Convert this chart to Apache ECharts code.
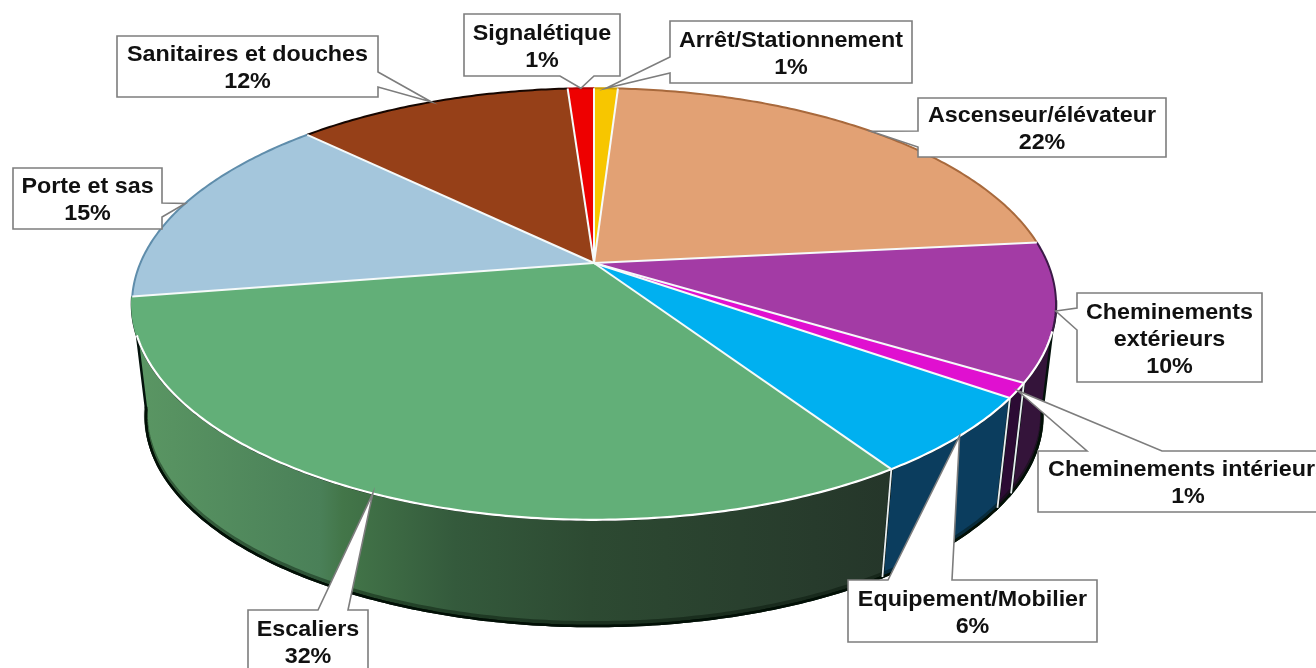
<!DOCTYPE html>
<html><head><meta charset="utf-8">
<style>html,body{margin:0;padding:0;background:#fff;overflow:hidden}#c{width:1316px;height:668px}</style>
<script src="https://cdn.jsdelivr.net/npm/echarts@6/dist/echarts.min.js"></script>
</head><body><div id="c"></div>
<script>
// DATA
const categories = ["Arrêt/Stationnement","Ascenseur/élévateur","Cheminements\nextérieurs","Cheminements intérieurs","Equipement/Mobilier","Escaliers","Porte et sas","Sanitaires et douches","Signalétique"];
const shares = [1.0,22.4,10.3,1.1,5.9,31.8,14.8,11.6,1.1];

// STYLE
const faceColors = ["#F7C600","#E2A174","#A33BA5","#E010D0","#00B0F0","#62AF78","#A4C6DC","#964018","#EE0000"];
const rimColors  = ["#d0a000","#a8693c","#3c1a48","#E010D0","#00B0F0","#62AF78","#5f8dab","#160600","#b00000"];
const greenWall = [[0,"#5a9663"],[0.24,"#4a8058"],[0.27,"#437649"],[0.42,"#345a3c"],[0.6,"#2d4a32"],[1,"#25362a"]];
const wallColors = [null,null,"#34143a","#2c0b34","#0b3d5e",greenWall,null,null,null];

// LAYOUT of the callouts: box x, y, w, h, wedge side, wedge base start, wedge base end
const calloutLayout = [
  [670,21,242,62,"left",57,73],
  [918,98,248,59,"left",131,147],
  [1077,293,185,89,"left",308,330],
  [1038,451,300,61,"top",1087,1162],
  [848,580,249,62,"top",888,952],
  [248,610,120,62,"top",318,348],
  [13,168,149,61,"right",203,217],
  [117,36,261,61,"right",72,87],
  [464,14,156,62,"bottom",560,594]
];

// PROJECTION of the tilted disc
const apexX = 594, apexY = 263, persp = 0.19, radY = 208, radX = 453.6;
const wallDrop = 114, wallScale = 0.97;
const wallFrom = 100, wallTo = 262;      // visible part of the side wall, degrees clockwise from the top
const frontFrom = 108, frontTo = 251;    // part of the rim drawn in white

function project(deg, lower) {
  const t = deg * Math.PI / 180, u = Math.sin(t), v = -Math.cos(t), w = 1 - persp * v;
  const s = lower ? wallScale : 1, d = lower ? wallDrop : 0;
  return [apexX + s * radX * u / w, apexY + d + s * radY * v / w];
}
const total = shares.reduce((a, b) => a + b, 0);
const edges = [0];
shares.forEach(function (s) { edges.push(edges[edges.length - 1] + s / total * 360); });
function arc(a, b, lower) {
  const n = Math.max(2, Math.ceil((b - a) * 1.5)), p = [];
  for (let i = 0; i <= n; i++) p.push(project(a + (b - a) * i / n, lower));
  return p;
}

function wallItem(params, api) {
  const i = params.dataIndex, a = Math.max(edges[i], wallFrom), b = Math.min(edges[i + 1], wallTo);
  if (b <= a || !wallColors[i]) return { type: 'group', children: [] };
  let fill = wallColors[i];
  if (Array.isArray(fill)) {
    fill = new echarts.graphic.LinearGradient(140, 0, 890, 0,
      fill.map(function (s) { return { offset: s[0], color: s[1] }; }), true);
  }
  const top = arc(a, b, false), bot = arc(a, b, true);
  const inner = bot.map(function (p) { return [p[0], p[1] - 3]; });
  const kids = [
    { type: 'polygon', shape: { points: top.concat(bot.slice().reverse()) },
      style: { fill: fill, stroke: '#04120c', lineWidth: 2.5 } },
    { type: 'polyline', shape: { points: inner }, style: { fill: null, stroke: '#021006', opacity: 0.4, lineWidth: 4 } },
    { type: 'polyline', shape: { points: bot }, style: { fill: null, stroke: '#021006', lineWidth: 2.5 } }
  ];
  if (edges[i] >= wallFrom) {
    kids.push({ type: 'polyline', shape: { points: [top[0], bot[0]] }, style: { fill: null, stroke: '#e8eef0', lineWidth: 1.8 } });
  }
  return { type: 'group', children: kids };
}

function faceItem(params, api) {
  const i = params.dataIndex, a = edges[i], b = edges[i + 1];
  const apex = [apexX, apexY];
  const kids = [
    { type: 'polygon', shape: { points: [apex].concat(arc(a, b, false)) }, style: { fill: faceColors[i] } }
  ];
  // rim: coloured at the back, white at the front
  const fa = Math.max(a, frontFrom), fb = Math.min(b, frontTo);
  if (fb > fa) {
    kids.push({ type: 'polyline', shape: { points: arc(fa, fb, false) }, style: { fill: null, stroke: '#ffffff', lineWidth: 2.2 } });
  }
  if (a < frontFrom) {
    kids.push({ type: 'polyline', shape: { points: arc(a, Math.min(b, frontFrom), false) }, style: { fill: null, stroke: rimColors[i], lineWidth: 2 } });
  }
  if (b > frontTo) {
    kids.push({ type: 'polyline', shape: { points: arc(Math.max(a, frontTo), b, false) }, style: { fill: null, stroke: rimColors[i], lineWidth: 2 } });
  }
  return { type: 'group', children: kids };
}

function spokeItem(params, api) {
  const i = params.dataIndex;
  return { type: 'polyline', shape: { points: [[apexX, apexY], project(edges[i + 1], false)] },
    style: { fill: null, stroke: '#f6fafa', lineWidth: 2 } };
}

function calloutItem(params, api) {
  const i = params.dataIndex, L = calloutLayout[i];
  const x = L[0], y = L[1], w = L[2], h = L[3], side = L[4], b0 = L[5], b1 = L[6];
  const tip = project((edges[i] + edges[i + 1]) / 2, false);
  let pts;
  if (side === 'left')        pts = [[x, y], [x + w, y], [x + w, y + h], [x, y + h], [x, b1], tip, [x, b0]];
  else if (side === 'right')  pts = [[x, y], [x + w, y], [x + w, b0], tip, [x + w, b1], [x + w, y + h], [x, y + h]];
  else if (side === 'top')    pts = [[x, y], [b0, y], tip, [b1, y], [x + w, y], [x + w, y + h], [x, y + h]];
  else                        pts = [[x, y], [x + w, y], [x + w, y + h], [b1, y + h], tip, [b0, y + h], [x, y + h]];
  const text = api.value(0) + "\n" + Math.round(api.value(1)) + "%";
  return { type: 'group', children: [
    { type: 'polygon', shape: { points: pts }, style: { fill: '#fff', stroke: '#7d7d7d', lineWidth: 1.6, lineJoin: 'miter' } },
    { type: 'text', x: x + w / 2, y: y + h / 2 + 2, scaleX: 1.06,
      style: { x: 0, y: 0, text: text, align: 'center', verticalAlign: 'middle',
        font: 'bold 22px "Liberation Sans", Arial, sans-serif', lineHeight: 27, fill: '#111' } }
  ] };
}

const rows = categories.map(function (c, i) { return [c, shares[i]]; });
const chart = echarts.init(document.getElementById('c'), null, { renderer: 'canvas' });
const layer = function (z, fn) {
  return { type: 'custom', coordinateSystem: 'none', z: z, silent: true, data: rows, renderItem: fn };
};
chart.setOption({
  animation: false,
  backgroundColor: '#fff',
  series: [layer(1, wallItem), layer(2, faceItem), layer(3, spokeItem), layer(4, calloutItem)]
});
</script></body></html>
